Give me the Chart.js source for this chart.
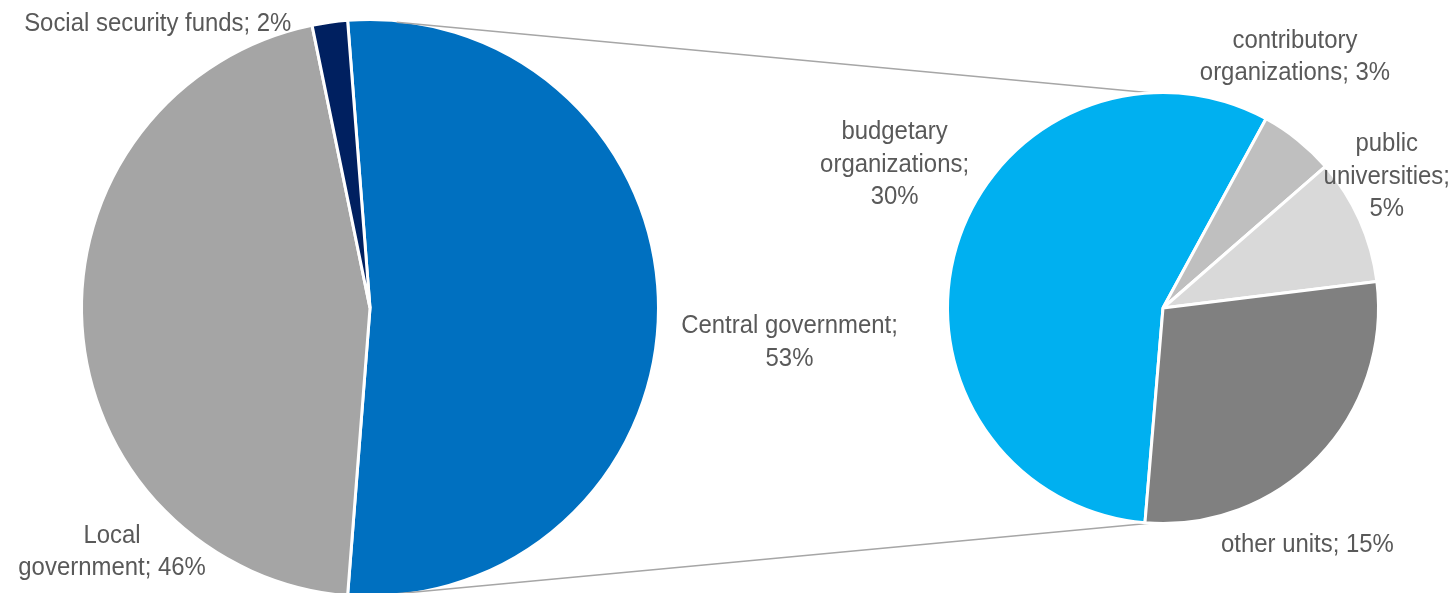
<!DOCTYPE html>
<html>
<head>
<meta charset="utf-8">
<script src="https://cdn.jsdelivr.net/npm/chart.js@4.4.1/dist/chart.umd.min.js"></script>
<style>
  html, body { margin: 0; padding: 0; background: #fff; overflow: hidden; }
  #wrap { position: relative; width: 1455px; height: 620px; }
  .layer { position: absolute; left: 0; top: 0; width: 1455px; height: 620px; }
</style>
</head>
<body>
<div id="wrap">
  <div class="layer"><canvas id="mainPie"></canvas></div>
  <div class="layer"><canvas id="subPie"></canvas></div>
</div>
<script>
// whole sector split
const mainLabels = ["Central government", "Local government", "Social security funds"];
const mainValues = [53, 46, 2];
const mainColors = ["#0070C0", "#A5A5A5", "#002060"];

// central government broken down
const subLabels = ["budgetary organizations", "contributory organizations", "public universities", "other units"];
const subValues = [30, 3, 5, 15];
const subColors = ["#00B0F0", "#BFBFBF", "#D9D9D9", "#808080"];

// where each label wraps (break after word n) and how far it sits from its slice
const mainBreaks = [[2], [1], []];
const mainOffsets = [[131, 25], [30, 217], [-172, 9]];
const subBreaks = [[1, 2], [1], [1, 2], []];
const subOffsets = [[-62, -107], [-3, -92], [27, -69], [-11, 95]];

const W = 1455, H = 620;
const BORDER = 3;

function boxPadding(cx, cy, size) {
  const left = cx - size / 2, top = cy - size / 2;
  return { left: left, top: top, right: W - left - size, bottom: H - top - size };
}

// slice labels: "name; value%" wrapped onto a few lines
const sliceLabels = {
  id: 'sliceLabels',
  afterDatasetsDraw(chart, args, opts) {
    const ctx = chart.ctx;
    const meta = chart.getDatasetMeta(0);
    const values = chart.data.datasets[0].data;
    ctx.save();
    ctx.fillStyle = '#595959';
    ctx.font = '26px "Liberation Sans", Arial, sans-serif';
    ctx.textAlign = 'center';
    ctx.textBaseline = 'alphabetic';
    meta.data.forEach((arc, i) => {
      const mid = (arc.startAngle + arc.endAngle) / 2;
      const x = arc.x + Math.cos(mid) * arc.outerRadius + opts.offsets[i][0];
      const y = arc.y + Math.sin(mid) * arc.outerRadius + opts.offsets[i][1];
      const words = (chart.data.labels[i] + '; ' + values[i] + '%').split(' ');
      const lines = [];
      let cur = [];
      words.forEach((w, k) => {
        cur.push(w);
        if (opts.breaks[i].includes(k + 1)) { lines.push(cur.join(' ')); cur = []; }
      });
      if (cur.length) lines.push(cur.join(' '));
      lines.forEach((line, n) => {
        ctx.save();
        ctx.translate(x, y + n * 32.5);
        ctx.scale(0.92, 1);
        ctx.fillText(line, 0, 0);
        ctx.restore();
      });
    });
    ctx.restore();
  }
};

// grey lines joining the big pie to the top and bottom of the small one
const connectors = {
  id: 'connectors',
  beforeDatasetsDraw(chart) {
    const big = mainChart.getDatasetMeta(0).data[0];
    const small = chart.getDatasetMeta(0).data[0];
    const r = big.outerRadius - BORDER / 2;
    const ctx = chart.ctx;
    ctx.save();
    ctx.strokeStyle = '#A6A6A6';
    ctx.lineWidth = 1.5;
    [-1, 1].forEach(side => {
      const px = small.x, py = small.y + side * (small.outerRadius - BORDER / 2);
      const dx = px - big.x, dy = py - big.y;
      const d = Math.hypot(dx, dy);
      const t = Math.atan2(dy, dx) + side * Math.acos(r / d);
      ctx.beginPath();
      ctx.moveTo(big.x + Math.cos(t) * r, big.y + Math.sin(t) * r);
      ctx.lineTo(px, py);
      ctx.stroke();
    });
    ctx.restore();
  }
};

const mainTotal = mainValues.reduce((a, b) => a + b, 0);

const mainChart = new Chart(document.getElementById('mainPie'), {
  type: 'pie',
  data: {
    labels: mainLabels,
    datasets: [{
      data: mainValues,
      backgroundColor: mainColors,
      borderColor: '#ffffff',
      borderWidth: BORDER,
      // central slice centred on the right-hand side
      rotation: 90 - mainValues[0] / mainTotal * 180
    }]
  },
  options: {
    responsive: true,
    maintainAspectRatio: false,
    animation: false,
    events: [],
    layout: { padding: boxPadding(370, 308, 580) },
    plugins: {
      legend: { display: false },
      tooltip: { enabled: false },
      sliceLabels: { offsets: mainOffsets, breaks: mainBreaks }
    }
  },
  plugins: [sliceLabels]
});

const subChart = new Chart(document.getElementById('subPie'), {
  type: 'pie',
  data: {
    labels: subLabels,
    datasets: [{
      data: subValues,
      backgroundColor: subColors,
      borderColor: '#ffffff',
      borderWidth: BORDER,
      rotation: 184.8
    }]
  },
  options: {
    responsive: true,
    maintainAspectRatio: false,
    animation: false,
    events: [],
    layout: { padding: boxPadding(1163, 308, 434) },
    plugins: {
      legend: { display: false },
      tooltip: { enabled: false },
      sliceLabels: { offsets: subOffsets, breaks: subBreaks }
    }
  },
  plugins: [connectors, sliceLabels]
});
</script>
</body>
</html>
